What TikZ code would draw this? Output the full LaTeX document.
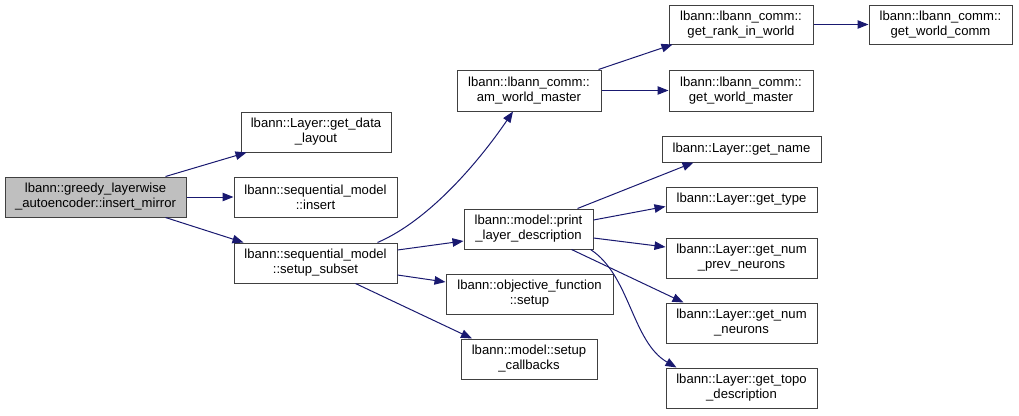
\documentclass[tikz,border=0pt]{standalone}
\usepackage{fontspec}
\setmainfont{Liberation Sans}
\usetikzlibrary{arrows.meta}
\definecolor{edgecol}{HTML}{191970}
\definecolor{rootfill}{HTML}{BFBFBF}
\begin{document}
\begin{tikzpicture}[x=1pt,y=-1pt,
  fn/.style={draw=black!75,line width=1pt,fill=white,inner sep=0pt,align=center,
    font=\fontsize{13.1}{15}\selectfont},
  call/.style={draw=edgecol,line width=1pt,-{Triangle[length=11pt,width=8.5pt]}}]
\useasboundingbox (0,0) rectangle (1019,415);
% nodes: center x, center y, width, height
\node[fn,fill=rootfill,minimum width=181pt,minimum height=40pt] (root) at (95.5,197) {lbann::greedy\_layerwise\\\_autoencoder::insert\_mirror};
\node[fn,minimum width=150pt,minimum height=40pt] (gdl) at (316,132) {lbann::Layer::get\_data\\\_layout};
\node[fn,minimum width=163pt,minimum height=40pt] (ins) at (315.5,197) {lbann::sequential\_model\\::insert};
\node[fn,minimum width=163pt,minimum height=40pt] (ss) at (315.5,263) {lbann::sequential\_model\\::setup\_subset};
\node[fn,minimum width=144pt,minimum height=41pt] (awm) at (529,90.5) {lbann::lbann\_comm::\\am\_world\_master};
\node[fn,minimum width=129pt,minimum height=40pt] (pld) at (528.5,229) {lbann::model::print\\\_layer\_description};
\node[fn,minimum width=167pt,minimum height=40pt] (ofs) at (529.5,294) {lbann::objective\_function\\::setup};
\node[fn,minimum width=136pt,minimum height=40pt] (scb) at (529,359) {lbann::model::setup\\\_callbacks};
\node[fn,minimum width=144pt,minimum height=39pt] (rank) at (741,24.5) {lbann::lbann\_comm::\\get\_rank\_in\_world};
\node[fn,minimum width=143pt,minimum height=39pt] (comm) at (940.5,24.5) {lbann::lbann\_comm::\\get\_world\_comm};
\node[fn,minimum width=144pt,minimum height=41pt] (wm) at (741,90.5) {lbann::lbann\_comm::\\get\_world\_master};
\node[fn,minimum width=159pt,minimum height=26pt] (gname) at (741.5,149) {lbann::Layer::get\_name};
\node[fn,minimum width=151pt,minimum height=25pt] (gtype) at (741.5,199.5) {lbann::Layer::get\_type};
\node[fn,minimum width=151pt,minimum height=40pt] (gprev) at (741.5,258) {lbann::Layer::get\_num\\\_prev\_neurons};
\node[fn,minimum width=151pt,minimum height=40pt] (gnum) at (741.5,323) {lbann::Layer::get\_num\\\_neurons};
\node[fn,minimum width=151pt,minimum height=40pt] (gtopo) at (741.5,388) {lbann::Layer::get\_topo\\\_description};
% edges
\draw[call] ([xshift=-21pt]root.north east) -- ([xshift=6pt]gdl.south west);
\draw[call] (root.east) -- (ins.west);
\draw[call] ([xshift=-21pt]root.south east) -- ([xshift=10pt]ss.north west);
\draw[call] ([xshift=-20pt]ss.north east) .. controls (430,220) and (480,160) .. ([xshift=-16pt]awm.south);
\draw[call] ([yshift=13pt]ss.east) -- ([yshift=-12pt]pld.west);
\draw[call] ([yshift=-12pt]ss.east) -- ([yshift=12pt]ofs.west);
\draw[call] ([xshift=40pt]ss.south) -- ([xshift=-57pt]scb.north);
\draw[call] ([xshift=-3pt]awm.north east) -- ([xshift=4pt]rank.south west);
\draw[call] (awm.east) -- (wm.west);
\draw[call] (rank.east) -- (comm.west);
\draw[call] ([xshift=-16pt]pld.north east) -- ([xshift=32pt]gname.south west);
\draw[call] ([yshift=9pt]pld.east) -- ([yshift=-7pt]gtype.west);
\draw[call] ([yshift=-9pt]pld.east) -- ([yshift=11pt]gprev.west);
\draw[call] ([xshift=-22pt]pld.south east) -- ([xshift=18pt]gnum.north west);
\draw[call] ([xshift=-3pt]pld.south east) .. controls (630,275) and (632,342) .. ([xshift=11pt]gtopo.north west);
\end{tikzpicture}
\end{document}
